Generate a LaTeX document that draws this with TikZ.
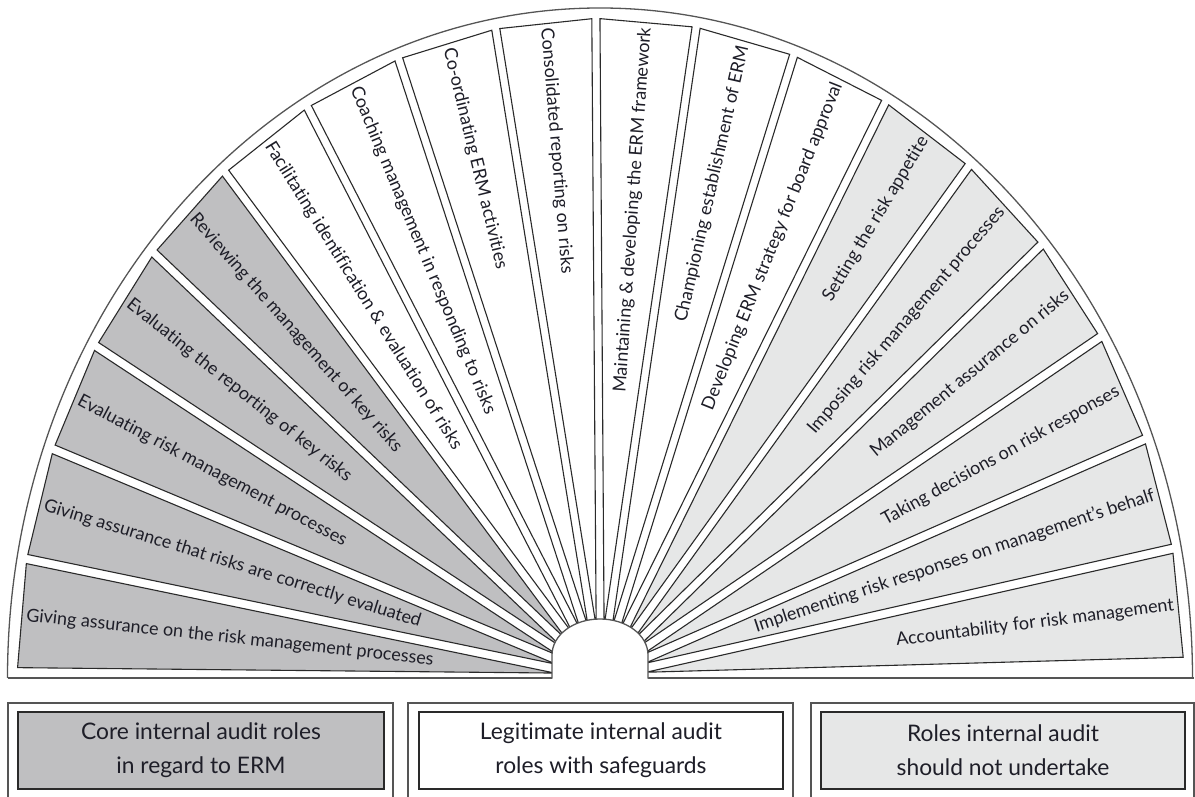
\documentclass[tikz,border=0pt]{standalone}
\usepackage{fontspec}
\setmainfont{Lato}[Ligatures=NoCommon]
\definecolor{coregray}{HTML}{BFBFC1}
\definecolor{notgray}{HTML}{E6E7E7}
\definecolor{edgeink}{HTML}{2A2A2A}
\definecolor{rimink}{HTML}{555555}
\definecolor{ink}{HTML}{1E1E28}
\tikzset{
  wedge/.style={draw=edgeink, line width=1.1pt, line join=miter},
  rim/.style={draw=rimink, line width=1.3pt},
  fantext/.style={inner sep=0pt, text=ink, font=\fontsize{18}{20}\selectfont},
  keybox/.style={draw=edgeink, line width=1.1pt, minimum width=364pt, minimum height=77pt,
    align=center, text=ink, font=\fontsize{22.8}{34}\selectfont},
  keyframe/.style={draw=rimink, line width=1.1pt}
}
\begin{document}
\begin{tikzpicture}[x=1pt,y=1pt]
\useasboundingbox (0,0) rectangle (1195,796);

% outer rim of the fan and its base line
\draw[rim] (7.5,118) arc[start angle=180, end angle=0, x radius=592.5, y radius=670];
\draw[rim] (7.5,118) -- (552,118);
\draw[rim] (648,118) -- (1193.5,118);

% eighteen wedges with their role labels
\foreach \i/\fillc/\txt in {
  0/coregray/{Giving assurance on the risk management processes},
  1/coregray/{Giving assurance that risks are correctly evaluated},
  2/coregray/{Evaluating risk management processes},
  3/coregray/{Evaluating the reporting of key risks},
  4/coregray/{Reviewing the management of key risks},
  5/white/{Facilitating identification \& evaluation of risks},
  6/white/{Coaching management in responding to risks},
  7/white/{Co-ordinating ERM activities},
  8/white/{Consolidated reporting on risks},
  9/white/{Maintaining \& developing the ERM framework},
  10/white/{Championing establishment of ERM},
  11/white/{Developing ERM strategy for board approval},
  12/notgray/{Setting the risk appetite},
  13/notgray/{Imposing risk management processes},
  14/notgray/{Management assurance on risks},
  15/notgray/{Taking decisions on risk responses},
  16/notgray/{Implementing risk responses on management’s behalf},
  17/notgray/{Accountability for risk management}} {
  \pgfmathsetmacro\aa{179.1-\i*9.894}
  \pgfmathsetmacro\ab{\aa-9.094}
  \pgfmathsetmacro\am{\aa-4.547}
  \begin{scope}[shift={(600.5,118)}, yscale=1.131]
    \filldraw[wedge, fill=\fillc] (\am:46) -- (\aa:583) -- (\ab:583) -- cycle;
  \end{scope}
  \pgfmathsetmacro\ang{atan2(1.131*sin(\am),cos(\am))}
  \pgfmathsetmacro\px{600.5+577*cos(\am)}
  \pgfmathsetmacro\py{118+1.131*577*sin(\am)}
  \ifnum\i<9
    \node[fantext, anchor=west, rotate=\ang+180] (t\i) at (\px,\py) {\txt};
  \else
    \node[fantext, anchor=east, rotate=\ang] (t\i) at (\px,\py) {\txt};
  \fi
}

% hub at the centre of the fan
\filldraw[rim, fill=white] (552,117.3) -- (552,141) arc[start angle=180, end angle=0, x radius=48, y radius=36] -- (648,117.3);

% key
\draw[keyframe] (8,-5) -- (8,93) -- (393,93) -- (393,-5);
\draw[keyframe] (408,-5) -- (408,93) -- (793,93) -- (793,-5);
\draw[keyframe] (811,-5) -- (811,93) -- (1194,93) -- (1194,-5);
\node[keybox, fill=coregray, minimum width=366pt] (kcore) at (201,45.5) {Core internal audit roles\\in regard to ERM};
\node[keybox, fill=white] (klegit) at (601,45.5) {Legitimate internal audit\\roles with safeguards};
\node[keybox, fill=notgray] (knot) at (1003,45.5) {Roles internal audit\\should not undertake};
\end{tikzpicture}
\end{document}
